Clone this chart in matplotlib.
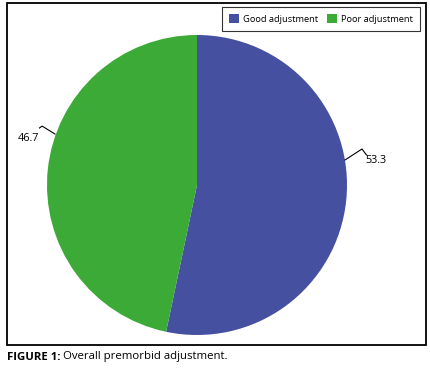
import matplotlib
matplotlib.use("Agg")
import matplotlib.pyplot as plt
from matplotlib.patches import Rectangle, Patch
import numpy as np

categories = ["Good adjustment", "Poor adjustment"]
values = [53.3, 46.7]
colors = ["#4550A0", "#3BAA36"]
caption_bold = "FIGURE 1:"
caption_text = " Overall premorbid adjustment."

plt.rcParams['font.family'] = ['Open Sans', 'DejaVu Sans']

W, H = 430, 380
fig = plt.figure(figsize=(W / 100, H / 100), dpi=100)

# outer frame
fig.patches.append(Rectangle((7 / W, 1 - 345 / H), (426 - 7) / W, (345 - 3) / H,
                             transform=fig.transFigure, fill=False, ec="black", lw=1.3))

cx, cy, r = 197, 185, 150
ax = fig.add_axes([(cx - r) / W, (H - cy - r) / H, 2 * r / W, 2 * r / H])
ax.pie(values, colors=colors, startangle=90, counterclock=False, radius=1,
       wedgeprops=dict(linewidth=0))
ax.set_xlim(-1, 1)
ax.set_ylim(-1, 1)
ax.axis("off")

# leader lines and labels
ax.plot([0.987, 1.10, 1.13], [0.167, 0.24, 0.20], color="black", lw=0.8, clip_on=False)
ax.text(1.12, 0.16, f"{values[0]:.1f}", ha="left", va="center", fontsize=7.8, clip_on=False)
ax.plot([-0.947, -1.033, -1.05], [0.34, 0.393, 0.38], color="black", lw=0.8, clip_on=False)
ax.text(-1.053, 0.31, f"{values[1]:.1f}", ha="right", va="center", fontsize=7.8, clip_on=False)

handles = [Patch(facecolor=c, edgecolor="none") for c in colors]
leg = fig.legend(handles, categories, ncol=2, loc="upper right",
                 bbox_to_anchor=(420 / W, 1 - 7 / H), fontsize=6.7,
                 frameon=True, fancybox=False, handlelength=1.1, handleheight=1.1,
                 handletextpad=0.45, columnspacing=0.9, borderpad=0.75,
                 borderaxespad=0)
leg.get_frame().set_edgecolor("black")
leg.get_frame().set_linewidth(0.8)

t1 = fig.text(7 / W, 1 - 357 / H, caption_bold, fontsize=8.2, fontweight="bold",
              ha="left", va="center")
fig.canvas.draw()
bb = t1.get_window_extent()
fig.text(bb.x1 / W, 1 - 357 / H, caption_text, fontsize=8.2, ha="left", va="center")

fig.savefig("out.png", dpi=100)
